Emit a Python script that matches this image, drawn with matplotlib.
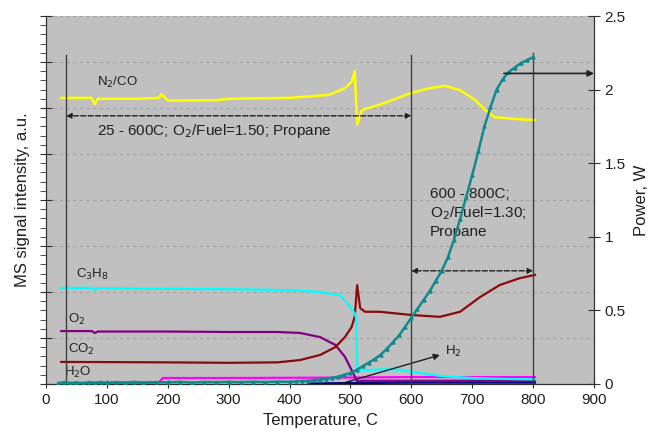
import numpy as np
import matplotlib.pyplot as plt

plt.rcParams['font.family'] = ['Liberation Sans', 'DejaVu Sans']

# ----------------------------
# data (left axis in gridline units 0-8, right axis in W)
# ----------------------------

t_n2 = [25, 75, 80, 85, 150, 185, 190, 200, 280, 300, 400, 450, 466, 491, 502, 507, 511, 519, 548, 600, 630, 655, 680, 705, 721, 737, 770, 803]
n2co = [6.22, 6.22, 6.08, 6.2, 6.2, 6.22, 6.3, 6.16, 6.17, 6.2, 6.22, 6.27, 6.29, 6.43, 6.57, 6.8, 5.64, 5.96, 6.07, 6.33, 6.43, 6.48, 6.39, 6.17, 5.96, 5.8, 5.76, 5.74]

t_c3 = [25, 75, 80, 85, 200, 300, 400, 450, 483, 500, 507, 510, 511, 520, 560, 580, 600, 650, 700, 750, 803]
c3h8 = [2.09, 2.09, 2.04, 2.08, 2.07, 2.06, 2.04, 2.0, 1.93, 1.67, 1.54, 1.4, 0.30, 0.30, 0.32, 0.31, 0.27, 0.17, 0.13, 0.11, 0.10]

t_o2 = [25, 75, 80, 85, 200, 300, 380, 417, 450, 475, 491, 502, 511, 520, 600, 700, 803]
o2 = [1.15, 1.15, 1.11, 1.14, 1.14, 1.13, 1.13, 1.11, 1.02, 0.85, 0.59, 0.30, 0.06, 0.07, 0.07, 0.07, 0.07]

t_co2 = [25, 200, 300, 380, 417, 450, 475, 491, 502, 507, 511, 516, 524, 548, 600, 647, 680, 713, 745, 778, 803]
co2 = [0.48, 0.47, 0.46, 0.47, 0.52, 0.63, 0.80, 1.02, 1.24, 1.46, 2.15, 1.65, 1.57, 1.57, 1.50, 1.46, 1.57, 1.89, 2.15, 2.30, 2.37]

t_h2o = [25, 185, 192, 300, 500, 600, 700, 803]
h2o = [0.02, 0.03, 0.13, 0.13, 0.14, 0.15, 0.15, 0.15]

t_h2 = [430, 500, 600, 700, 803]
h2 = [0.01, 0.02, 0.03, 0.03, 0.03]

t_pw = [20, 30, 40, 50, 60, 70, 80, 90, 100, 115, 130, 145, 160, 180, 200, 220, 240, 260, 280, 300,
        320, 340, 360, 380, 400, 410, 420, 430, 440, 450, 460, 470, 480, 490,
        500, 510, 520, 530, 540, 550, 560, 570, 580, 590, 600, 610, 620, 630, 640, 650,
        660, 670, 680, 690, 700, 710, 720, 730, 740, 750, 760, 770, 780, 790, 800]
power = [0.005, 0.012, 0.006, 0.01, 0.005, 0.011, 0.008, 0.012, 0.007, 0.012, 0.009, 0.013, 0.01, 0.012, 0.011, 0.014, 0.01, 0.013, 0.012, 0.014,
         0.012, 0.015, 0.013, 0.016, 0.015, 0.017, 0.02, 0.022, 0.025, 0.03, 0.035, 0.042, 0.05, 0.062,
         0.075, 0.095, 0.12, 0.145, 0.17, 0.20, 0.24, 0.285, 0.33, 0.39, 0.45, 0.51, 0.57, 0.63, 0.70, 0.77,
         0.86, 0.98, 1.12, 1.27, 1.42, 1.58, 1.75, 1.88, 2.00, 2.07, 2.12, 2.15, 2.18, 2.20, 2.22]

# ----------------------------
# Plot
# ----------------------------

txt = '#202020'
fig = plt.figure(figsize=(6.56, 4.36), dpi=100)
ax = fig.add_axes([0.0701, 0.1193, 0.8354, 0.8440])
ax.set_facecolor('#c0c0c0')
ax2 = ax.twinx()

ax.plot(t_h2o, h2o, color='#ff00ff', lw=1.6, zorder=3)
ax.plot(t_h2, h2, color='#000080', lw=1.6, zorder=3)
ax.plot(t_o2, o2, color='#800080', lw=1.6, zorder=3)
ax.plot(t_co2, co2, color='#8b0a0a', lw=1.6, zorder=3)
ax.plot(t_c3, c3h8, color='#00ffff', lw=1.6, zorder=3)
ax.plot(t_n2, n2co, color='#ffff00', lw=1.8, zorder=3)

ax2.plot(t_pw, power, color='#108a8a', lw=1.8, marker='^', markersize=2.2, zorder=3)

ax.set_xlim(0, 900)
ax.set_ylim(0, 8)
ax2.set_ylim(0, 2.5)
ax.set_xticks(np.arange(0, 901, 100))
ax.set_yticks(np.arange(0, 8.1, 1))
ax.set_yticks(np.arange(0, 8.01, 0.2), minor=True)
ax.set_yticklabels([])
ax2.set_yticks([0, 0.5, 1, 1.5, 2, 2.5])
ax2.set_yticklabels(['0', '0.5', '1', '1.5', '2', '2.5'])

ax.grid(axis='y', which='major', color='#a4a4a4', linestyle=(0, (3, 3)), lw=0.8)
ax.set_axisbelow(True)

for a in (ax, ax2):
    a.spines['top'].set_visible(False)
    for s in ('left', 'bottom', 'right'):
        a.spines[s].set_color('#303030')
ax.tick_params(axis='x', direction='inout', length=6, labelsize=11, labelcolor=txt, color='#303030')
ax.tick_params(axis='y', which='major', direction='inout', length=8, color='#303030')
ax.tick_params(axis='y', which='minor', direction='out', length=4, color='#303030')
ax2.tick_params(axis='y', direction='inout', length=8, labelsize=11, labelcolor=txt, color='#303030')

ax.set_xlabel('Temperature, C', fontsize=12, color=txt, labelpad=4)
ax.set_ylabel('MS signal intensity, a.u.', fontsize=12, color=txt, labelpad=4)
ax2.set_ylabel('Power, W', fontsize=12, color=txt, labelpad=6)

# vertical markers
for x0, y1 in [(33, 7.15), (600, 7.15), (800, 7.2)]:
    ax.plot([x0, x0], [0, y1], color='#404040', lw=1.0, zorder=4)

# range arrows
ax.annotate('', xy=(33, 5.83), xytext=(600, 5.83),
            arrowprops=dict(arrowstyle='<|-|>', ls='--', color='#202020', lw=1.0, mutation_scale=8, shrinkA=0, shrinkB=0))
ax.annotate('', xy=(600, 2.46), xytext=(800, 2.46),
            arrowprops=dict(arrowstyle='<|-|>', ls='--', color='#202020', lw=1.0, mutation_scale=8, shrinkA=0, shrinkB=0))
ax2.annotate('', xy=(900, 2.11), xytext=(752, 2.11),
             arrowprops=dict(arrowstyle='-|>', color='#202020', lw=1.2, mutation_scale=9, shrinkA=0, shrinkB=0))
ax.annotate('', xy=(647, 0.63), xytext=(488, 0.02),
            arrowprops=dict(arrowstyle='-|>', color='#202020', lw=1.0, mutation_scale=9, shrinkA=0, shrinkB=0))

ax.text(84, 5.5, '25 - 600C; O$_2$/Fuel=1.50; Propane', fontsize=11, color=txt, va='center')
ax.text(630, 3.72, '600 - 800C;\nO$_2$/Fuel=1.30;\nPropane', fontsize=11, color=txt, va='center', linespacing=1.25)
ax.text(84, 6.55, 'N$_2$/CO', fontsize=9.5, color=txt, va='center')
ax.text(50, 2.39, 'C$_3$H$_8$', fontsize=9.5, color=txt, va='center')
ax.text(36, 1.41, 'O$_2$', fontsize=9.5, color=txt, va='center')
ax.text(36, 0.74, 'CO$_2$', fontsize=9.5, color=txt, va='center')
ax.text(30, 0.26, 'H$_2$O', fontsize=9.5, color=txt, va='center')
ax.text(655, 0.7, 'H$_2$', fontsize=9.5, color=txt, va='center')

plt.savefig('out.png', dpi=100)
